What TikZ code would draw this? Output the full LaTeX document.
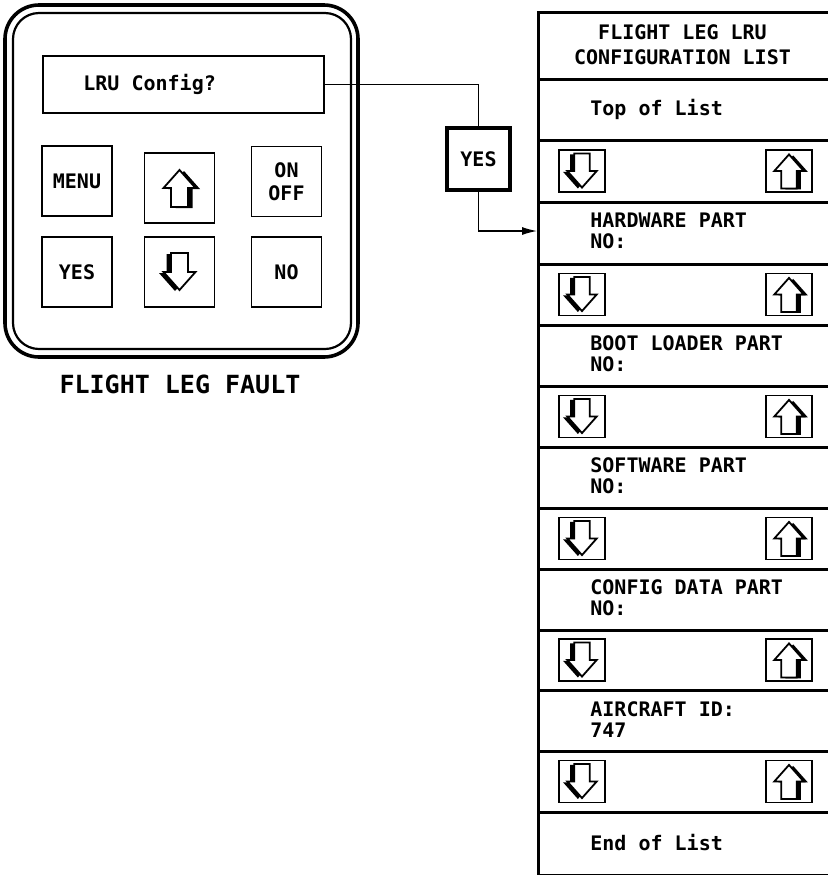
\documentclass[tikz,border=0pt]{standalone}
\usepackage{fontspec}
\setmonofont{DejaVu Sans Mono}
\usetikzlibrary{arrows.meta, positioning}

\begin{document}
\begin{tikzpicture}[x=0.5pt, y=-0.5pt,
  txt/.style={font=\ttfamily\bfseries\fontsize{10}{10.5}\selectfont, inner sep=0pt},
  key/.style={draw, line width=0.8pt, minimum size=35pt, inner sep=0pt, align=center, font=\ttfamily\bfseries\fontsize{10}{11.5}\selectfont},
  navbox/.style={draw, line width=0.9pt, minimum width=23pt, minimum height=21pt, inner sep=0pt},
  wire/.style={line width=0.6pt},
  uparrow/.pic={
    \fill[black] (4.5,-17) -- (20.5,1) -- (13,1) -- (13,20) -- (-4,20) -- (-4,1) -- (-11.5,1) -- cycle;
    \filldraw[fill=white, line width=0.9pt] (0,-18) -- (16,0) -- (8.5,0) -- (8.5,19) -- (-8.5,19) -- (-8.5,0) -- (-16,0) -- cycle;
  },
  dnarrow/.pic={
    \fill[black] (-4.5,19) -- (11.5,1) -- (4,1) -- (4,-18) -- (-13,-18) -- (-13,1) -- (-20.5,1) -- cycle;
    \filldraw[fill=white, line width=0.9pt] (0,18) -- (16,0) -- (8.5,0) -- (8.5,-19) -- (-8.5,-19) -- (-8.5,0) -- (-16,0) -- cycle;
  }]
 \useasboundingbox (0,0) rectangle (828,875);

 \draw[line width=1.8pt, rounded corners=17pt] (5,5) rectangle (358,357);
 \draw[line width=1.1pt, rounded corners=13pt] (13,13) rectangle (351,349);
 \node[draw, line width=0.8pt, anchor=north west, minimum width=140.5pt, minimum height=28.5pt, inner sep=0pt] (disp) at (42,55) {};
 \node[txt, anchor=west] (lru) at (83,84) {LRU Config?};
 \node[key] (menu) at (77,181) {MENU};
 \node[key] (up) at (179.5,188) {};
 \node[key] (onoff) at (286.5,181.5) {ON\\OFF};
 \node[key] (yes) at (77,272) {YES};
 \node[key] (down) at (179.5,272) {};
 \node[key] (no) at (286.5,272) {NO};
 \pic at (up) {uparrow};
 \pic at (down) {dnarrow};
 \node[font=\ttfamily\bfseries\fontsize{12.5}{15}\selectfont] (fault) at (180,384) {FLIGHT LEG FAULT};

 \node[draw, line width=1.5pt, anchor=north west, minimum width=147pt, minimum height=431.5pt, inner sep=0pt] (list) at (537,11) {};
 \foreach \y in {79,140,202,264,325,386,447,508,569,630,690,751,812}
   \draw[line width=1.5pt] (list.west |- 0,\y) -- (list.east |- 0,\y);
 \node[txt, align=center, font=\ttfamily\bfseries\fontsize{10}{12.5}\selectfont] (head) at (682.5,45) {FLIGHT LEG LRU\\CONFIGURATION LIST};
 \node[txt, anchor=west] (top) at (590,109.5) {Top of List};
 \node[txt, anchor=west, align=left] (hw) at (590,231) {HARDWARE PART\\NO:};
 \node[txt, anchor=west, align=left] (boot) at (590,353.5) {BOOT LOADER PART\\NO:};
 \node[txt, anchor=west, align=left] (soft) at (590,475.5) {SOFTWARE PART\\NO:};
 \node[txt, anchor=west, align=left] (cfg) at (590,597.5) {CONFIG DATA PART\\NO:};
 \node[txt, anchor=west, align=left] (acid) at (590,720) {AIRCRAFT ID:\\747};
 \node[txt, anchor=west] (end) at (590,843) {End of List};
 \foreach \y [count=\i] in {171,294.5,416.5,538.5,660,781.5}{
   \node[navbox] (dn\i) at (582,\y) {};
   \node[navbox] (up\i) at (789,\y) {};
   \pic[scale=0.92] at (dn\i) {dnarrow};
   \pic[scale=0.92] at (up\i) {uparrow};
 }

 \node[draw, line width=1.6pt, minimum width=31.5pt, minimum height=31pt, inner sep=0pt, txt] (yesbtn) at (478.5,159) {YES};
 \draw[wire] (disp.east) -| (yesbtn.north);
 \draw[wire, -{Latex[length=7.5pt,width=4pt]}] (yesbtn.south) |- (list.west |- hw.west);
\end{tikzpicture}
\end{document}
